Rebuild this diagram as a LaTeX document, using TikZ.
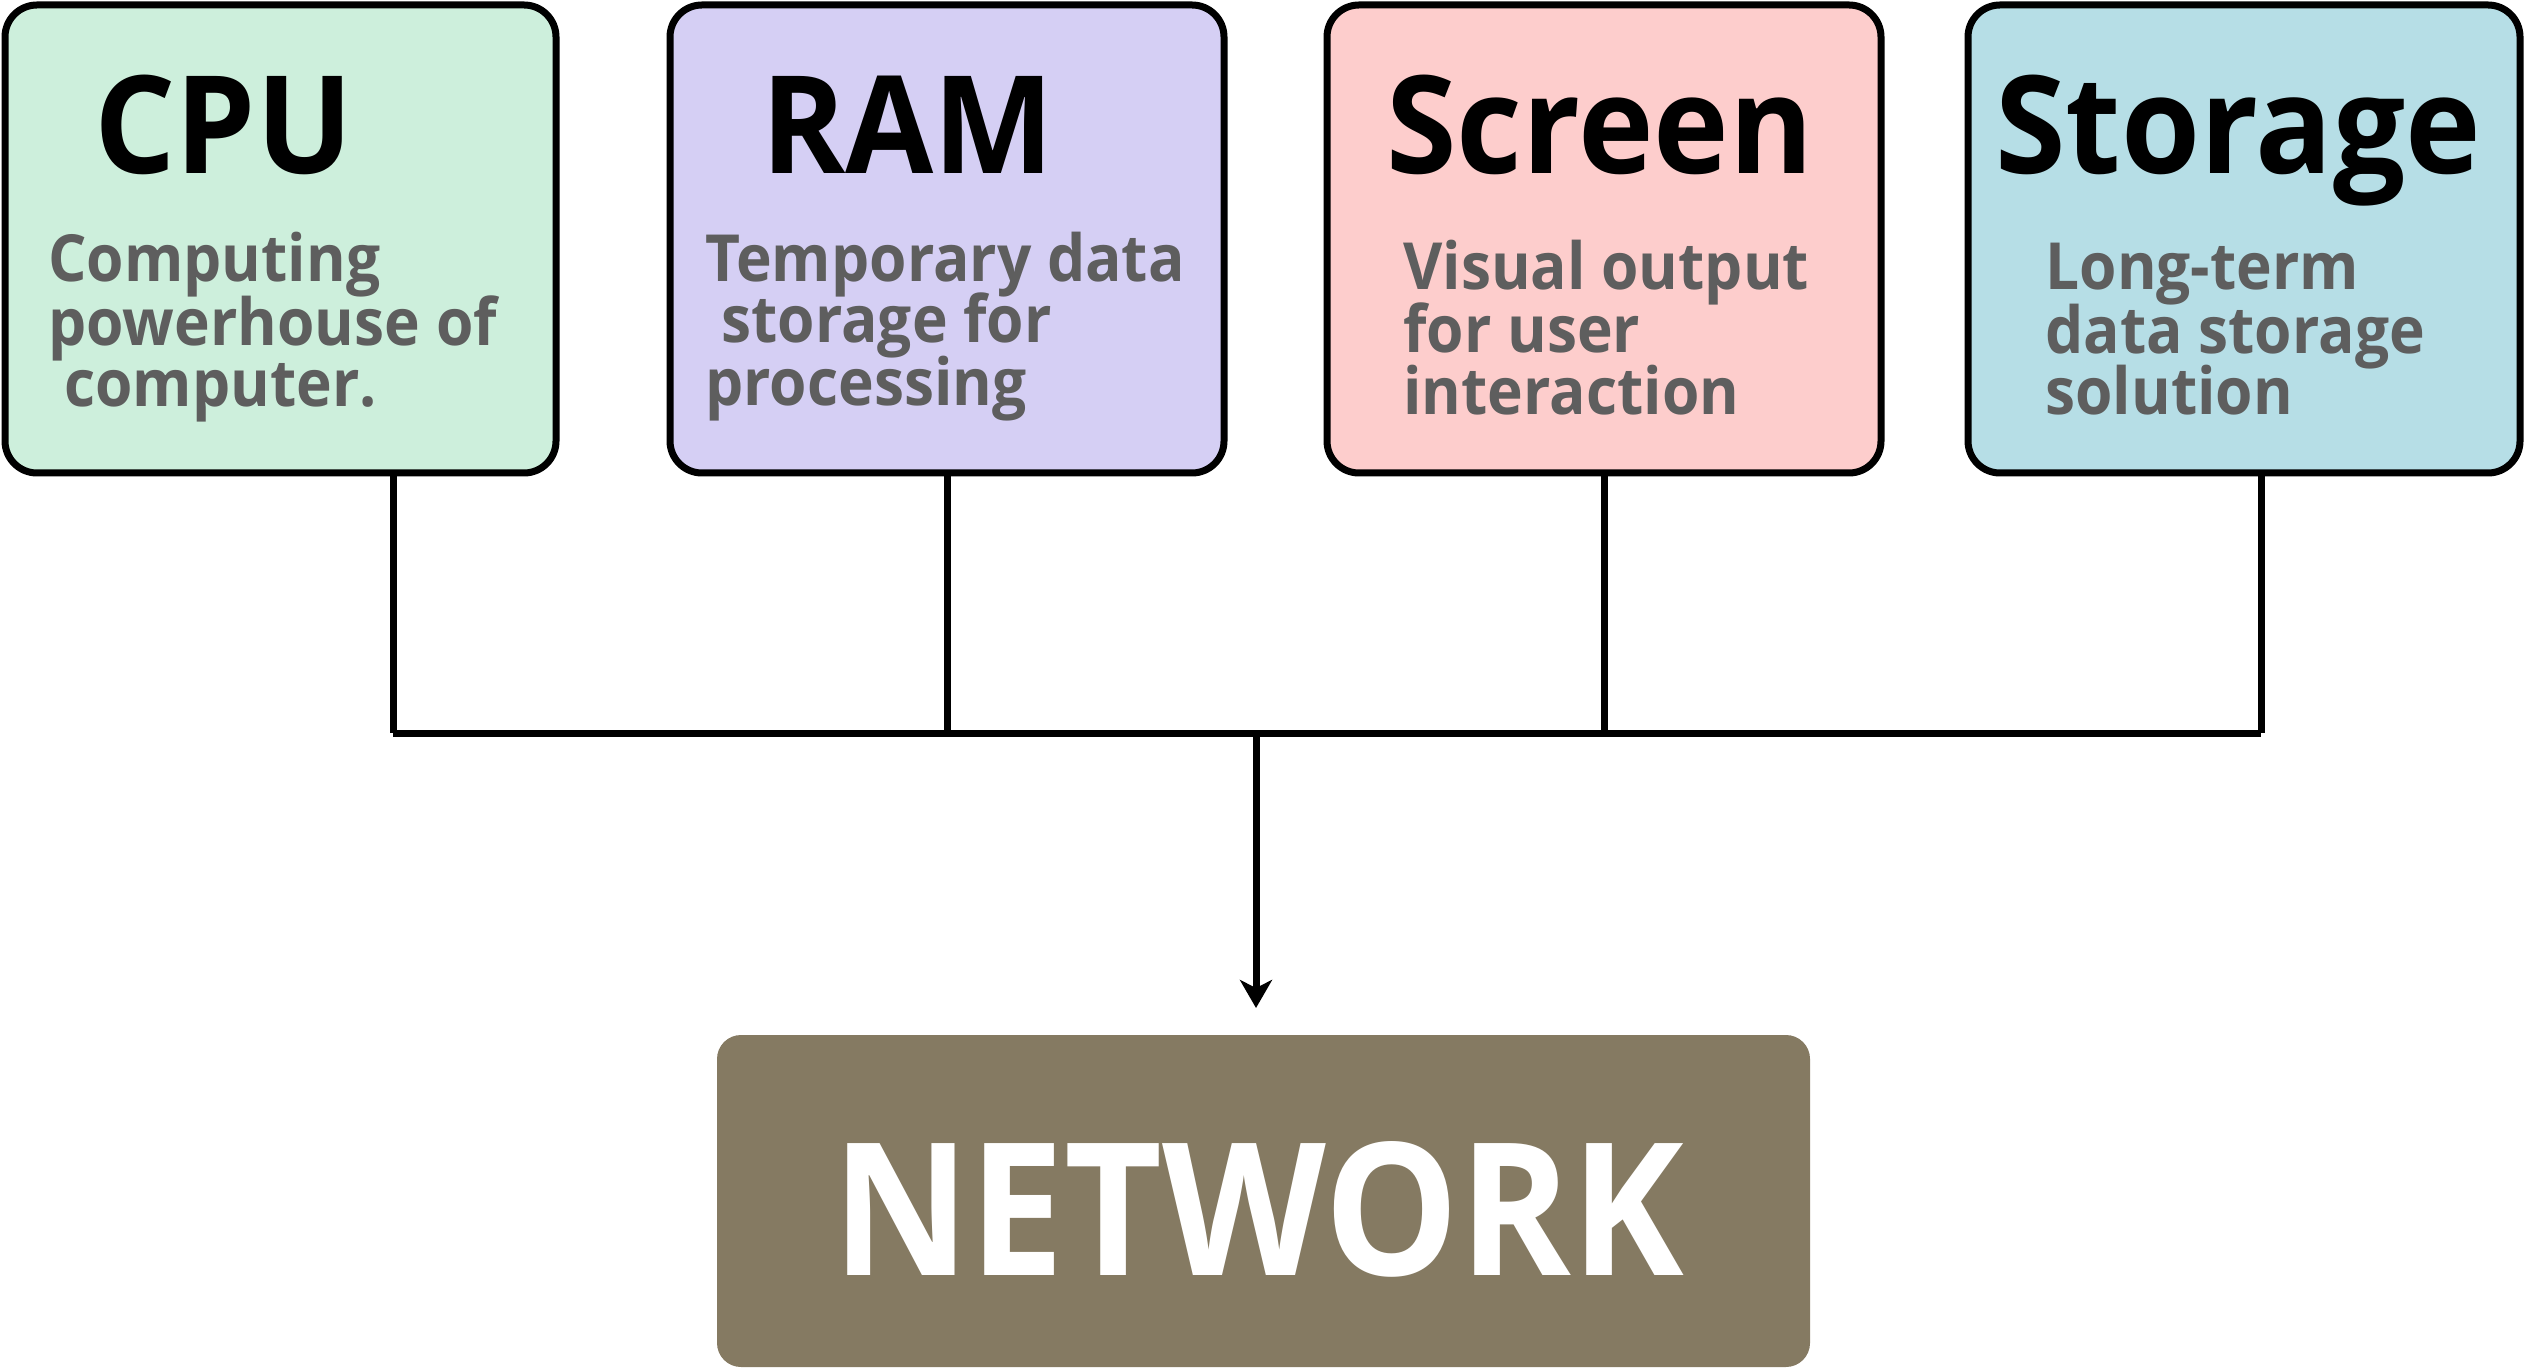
\documentclass[tikz,border=0pt]{standalone}
\usepackage{fontspec}
\setmainfont{Open Sans}
\newfontfamily\osbold{Open Sans Bold}[FakeStretch=0.94]
\newfontfamily\ossemi{Open Sans Bold}[FakeStretch=0.93]
\newfontfamily\osnet{Open Sans Bold}
\usetikzlibrary{arrows.meta}
\definecolor{cpuc}{HTML}{CDEFDC}
\definecolor{ramc}{HTML}{D5CFF4}
\definecolor{scrc}{HTML}{FDCDCC}
\definecolor{stoc}{HTML}{B6DEE6}
\definecolor{netc}{HTML}{857A62}
\definecolor{descc}{HTML}{5E5E5E}
\tikzset{
  card/.style={draw=black, line width=3.5pt, rounded corners=16pt, minimum height=234pt, inner sep=0pt},
  ttl/.style={anchor=base west, inner sep=0pt, font=\osbold\fontsize{68pt}{68pt}\selectfont},
  dsc/.style={anchor=base west, inner sep=0pt, text=descc, font=\ossemi\fontsize{32.5pt}{32.5pt}\selectfont},
  wire/.style={line width=3.5pt},
}
\begin{document}
\begin{tikzpicture}[x=0.5pt,y=-0.5pt]
\useasboundingbox (0,0) rectangle (2525,1368);
% boxes
\node[card, fill=cpuc, minimum width=275.5pt] (cpu) at (280.5,239) {};
\node[card, fill=ramc, minimum width=277pt] (ram) at (947,239) {};
\node[card, fill=scrc, minimum width=277pt] (scr) at (1604,239) {};
\node[card, fill=stoc, minimum width=276pt] (sto) at (2244,239) {};
\node[fill=netc, rounded corners=12pt, minimum width=546.5pt, minimum height=166pt, inner sep=0pt] (net) at (1263.5,1201) {};
% titles
\node[ttl] (cpuT) at (94,174) {CPU};
\node[ttl] (ramT) at (761,174) {RAM};
\node[ttl] (scrT) at (1386,174) {Screen};
\node[ttl] (stoT) at (1995,174) {Storage};
% descriptions
\node[dsc] (cpu1) at (48,282) {Computing};
\node[dsc] (cpu2) at (48,346) {powerhouse of};
\node[dsc] (cpu3) at (64,407) {computer.};
\node[dsc] (ram1) at (705,282) {Temporary data};
\node[dsc] (ram2) at (721,343) {storage for};
\node[dsc] (ram3) at (705,406) {processing};
\node[dsc] (scr1) at (1403,290) {Visual output};
\node[dsc] (scr2) at (1403,353) {for user};
\node[dsc] (scr3) at (1403,415) {interaction};
\node[dsc] (sto1) at (2045,290) {Long-term};
\node[dsc] (sto2) at (2045,354) {data storage};
\node[dsc] (sto3) at (2045,415) {solution};
% network label
\node[inner sep=0pt, text=white] (netT) at (1258,1209) {\resizebox{426pt}{67pt}{\fontsize{90pt}{90pt}\osnet NETWORK}};
% bus
\coordinate (b1) at (393,733);
\coordinate (b2) at (947,733);
\coordinate (b3) at (1604,733);
\coordinate (b4) at (2261,733);
\coordinate (bm) at (1256,733);
\draw[wire] (b1 |- cpu.south) -- (b1);
\draw[wire] (b2 |- ram.south) -- (b2);
\draw[wire] (b3 |- scr.south) -- (b3);
\draw[wire] (b4 |- sto.south) -- (b4);
\draw[wire] (b1) -- (b4);
\draw[wire, -{Stealth[length=14pt, width=16pt, inset=4pt]}] (bm) -- (bm |- 0,1008);
\end{tikzpicture}
\end{document}
